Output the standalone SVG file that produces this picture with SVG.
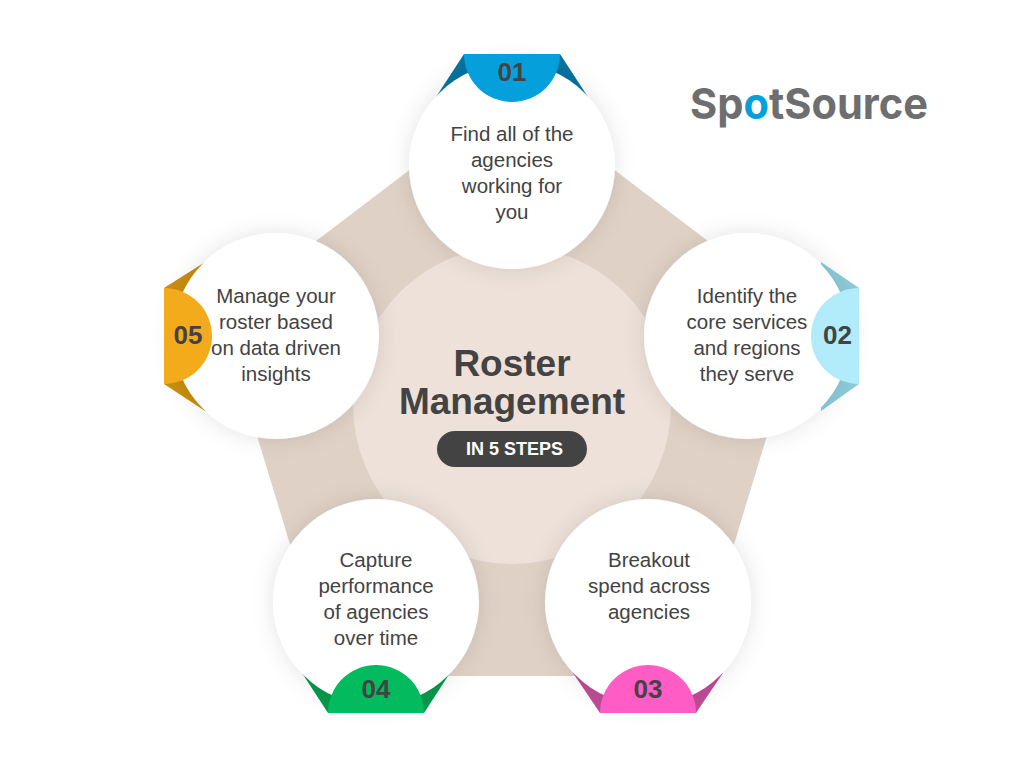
<svg xmlns="http://www.w3.org/2000/svg" width="1024" height="768" viewBox="0 0 1024 768">
<defs>
<filter id="soft" x="-30%" y="-30%" width="160%" height="160%"><feDropShadow dx="0" dy="0" stdDeviation="11" flood-color="#000" flood-opacity="0.11"/></filter>
<style>
.body{font:20.5px "Liberation Sans",Arial,sans-serif;fill:#434343;text-anchor:middle}
.num{font:bold 26px "Liberation Sans",Arial,sans-serif;fill:#434343;text-anchor:middle}
.title{font:bold 37px "Liberation Sans",Arial,sans-serif;fill:#434343;text-anchor:middle}
.disc{fill:#fff;filter:url(#soft)}
.logo{font:700 43px Inter,"Liberation Sans",sans-serif;fill:#6d6e70}
</style>
</defs>
<rect width="1024" height="768" fill="#fff"/>
<!-- pentagon base and central disc -->
<g id="backdrop">
<polygon points="512,92 804,314 694,676 330,676 220,314" fill="#dfd1c5"/>
<circle cx="512" cy="405" r="159" fill="#ede1d9"/>
</g>
<g id="step-01">
<path d="M436 97 L464 54 L560 54 L588 97 Z" fill="#05739f"/>
<circle class="disc" cx="512" cy="166" r="103"/>
<path d="M464 54 H560 A48 48 0 0 1 464 54 Z" fill="#059fdb"/>
<text class="num" x="512" y="81">01</text>
<text class="body"><tspan x="512" y="141">Find all of the</tspan><tspan x="512" y="167">agencies</tspan><tspan x="512" y="193">working for</tspan><tspan x="512" y="219">you</tspan></text>
</g>
<g id="step-02">
<path d="M821 262 L859 288 L859 384 L821 411 Z" fill="#8ccbd9"/>
<circle class="disc" cx="747" cy="336" r="103"/>
<path d="M859 288 V384 A48 48 0 0 1 859 288 Z" fill="#b2ebf9"/>
<text class="num" x="837.5" y="344">02</text>
<text class="body"><tspan x="747" y="303">Identify the</tspan><tspan x="747" y="329">core services</tspan><tspan x="747" y="355">and regions</tspan><tspan x="747" y="381">they serve</tspan></text>
</g>
<g id="step-03">
<path d="M573 673 L600 713 L696 713 L723 673 Z" fill="#bf4c97"/>
<circle class="disc" cx="648" cy="602" r="103"/>
<path d="M600 713 A48 48 0 0 1 696 713 Z" fill="#ff5cc6"/>
<text class="num" x="648" y="698">03</text>
<text class="body"><tspan x="649" y="567">Breakout</tspan><tspan x="649" y="593">spend across</tspan><tspan x="649" y="619">agencies</tspan></text>
</g>
<g id="step-04">
<path d="M302 673 L328 713 L424 713 L450 673 Z" fill="#069a4b"/>
<circle class="disc" cx="376" cy="602" r="103"/>
<path d="M328 713 A48 48 0 0 1 424 713 Z" fill="#02bb5e"/>
<text class="num" x="376" y="698">04</text>
<text class="body"><tspan x="376" y="567">Capture</tspan><tspan x="376" y="593">performance</tspan><tspan x="376" y="619">of agencies</tspan><tspan x="376" y="645">over time</tspan></text>
</g>
<g id="step-05">
<path d="M205 262 L164 288 L164 384 L205 411 Z" fill="#c98e10"/>
<circle class="disc" cx="276" cy="336" r="103"/>
<path d="M164 288 V384 A48 48 0 0 0 164 288 Z" fill="#f3ab1c"/>
<text class="num" x="188" y="344">05</text>
<text class="body"><tspan x="276" y="303">Manage your</tspan><tspan x="276" y="329">roster based</tspan><tspan x="276" y="355">on data driven</tspan><tspan x="276" y="381">insights</tspan></text>
</g>
<g id="center-title">
<text class="title" x="512" y="376">Roster</text>
<text class="title" x="512" y="414">Management</text>
<rect x="437" y="431" width="150" height="36" rx="18" fill="#434343"/>
<text x="514.500" y="455" font-family="Liberation Sans, Arial, sans-serif" font-weight="700" font-size="18" fill="#fff" text-anchor="middle">IN 5 STEPS</text>
</g>
<g id="logo">
<text class="logo" x="690" y="119" textLength="238" lengthAdjust="spacingAndGlyphs">Sp<tspan fill="#05a0dc">o</tspan>tSource</text>
</g>
</svg>
